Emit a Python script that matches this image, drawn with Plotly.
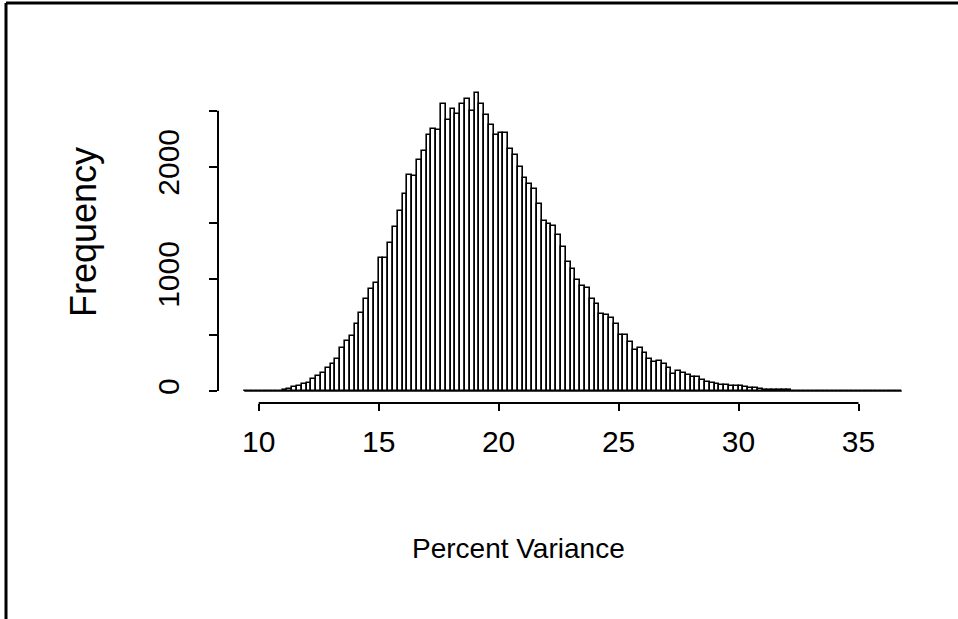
import plotly.graph_objects as go

# ---- data ----
breaks_start = 9.4
bin_width = 0.2
leading_zero_bins = [0] * 8
observed_counts = [
    8, 15, 33, 47, 59, 68, 107, 134, 158, 202,
    238, 288, 380, 449, 490, 597, 692, 817, 912, 966,
    1191, 1191, 1322, 1465, 1607, 1756, 1925, 1916, 2065, 2139,
    2282, 2341, 2332, 2558, 2421, 2520, 2475, 2558, 2602, 2498,
    2659, 2558, 2460, 2371, 2282, 2306, 2302, 2163, 2103, 1999,
    1896, 1851, 1800, 1664, 1518, 1488, 1471, 1390, 1286, 1153,
    1085, 989, 939, 918, 817, 775, 683, 677, 650, 594,
    502, 499, 440, 365, 380, 336, 282, 261, 270, 243,
    202, 155, 181, 158, 143, 128, 126, 98, 83, 68,
    62, 58, 53, 45, 45, 44, 40, 24, 24, 16,
    12, 11, 10, 9, 8, 7, 5, 4, 3,
]
trailing_zero_bins = [0] * 20
counts = leading_zero_bins + observed_counts + trailing_zero_bins

x_tick_vals = [10, 15, 20, 25, 30, 35]
y_tick_vals = [0, 500, 1000, 1500, 2000, 2500]
y_tick_text = ["0", "", "1000", "", "2000", ""]
x_title = "Percent Variance"
y_title = "Frequency"

# ---- derived ----
n = len(counts)
centers = [breaks_start + bin_width * (i + 0.5) for i in range(n)]
break_end = breaks_start + bin_width * n
span = break_end - breaks_start
x_range = [breaks_start - 0.04 * span, break_end + 0.04 * span]
ymax = max(counts)
y_range = [-0.04 * ymax, 1.04 * ymax]

FONT = "Liberation Sans, Arial, Helvetica, sans-serif"

fig = go.Figure()
fig.add_trace(go.Bar(
    x=centers, y=counts, width=bin_width,
    marker=dict(color="white", line=dict(color="black", width=1.6)),
    showlegend=False, hoverinfo="skip",
))

W, H = 958, 619
L, R, T, B = 218, 30, 81, 216
pw, ph = W - L - R, H - T - B

def px_to_paper_x(px):
    return (px - L) / pw

def px_to_paper_y(py):
    return (H - B - py) / ph

shapes = [
    # R-style detached axis lines
    dict(type="line", xref="x", yref="paper", x0=x_tick_vals[0], x1=x_tick_vals[-1],
         y0=0, y1=0, line=dict(color="black", width=2)),
    dict(type="line", xref="paper", yref="y", x0=0, x1=0,
         y0=y_tick_vals[0], y1=y_tick_vals[-1], line=dict(color="black", width=2)),
    # zero-count baseline of the histogram
    dict(type="line", xref="x", yref="y", x0=breaks_start, x1=break_end,
         y0=0, y1=0, line=dict(color="black", width=1.6)),
    # outer frame (left and top edges)
    dict(type="line", xref="paper", yref="paper",
         x0=px_to_paper_x(6), x1=px_to_paper_x(6),
         y0=px_to_paper_y(3), y1=px_to_paper_y(H + 5), line=dict(color="black", width=3)),
    dict(type="line", xref="paper", yref="paper",
         x0=px_to_paper_x(6), x1=px_to_paper_x(W + 5),
         y0=px_to_paper_y(3), y1=px_to_paper_y(3), line=dict(color="black", width=3)),
]

fig.update_layout(
    width=W, height=H,
    margin=dict(l=L, r=R, t=T, b=B, pad=0),
    paper_bgcolor="white", plot_bgcolor="white",
    bargap=0,
    font=dict(family=FONT, color="black", size=28),
    shapes=shapes,
    xaxis=dict(range=x_range, tickvals=x_tick_vals, ticks="outside", ticklen=7,
               tickwidth=2, tickcolor="black", showline=False, showgrid=False,
               zeroline=False, tickfont=dict(size=30), ticklabelstandoff=5),
    yaxis=dict(range=y_range, tickvals=y_tick_vals, ticktext=y_tick_text,
               tickangle=-90, ticks="outside", ticklen=8, tickwidth=2,
               tickcolor="black", showline=False, showgrid=False, zeroline=False,
               tickfont=dict(size=30), ticklabelstandoff=18),
    annotations=[
        dict(text=x_title, xref="paper", yref="paper",
             x=px_to_paper_x(518), y=px_to_paper_y(548),
             xanchor="center", yanchor="middle", showarrow=False,
             font=dict(size=28)),
        dict(text=y_title, xref="paper", yref="paper",
             x=px_to_paper_x(83), y=px_to_paper_y(232),
             xanchor="center", yanchor="middle", textangle=-90, showarrow=False,
             font=dict(size=36)),
    ],
)

fig.write_html("out.html")
